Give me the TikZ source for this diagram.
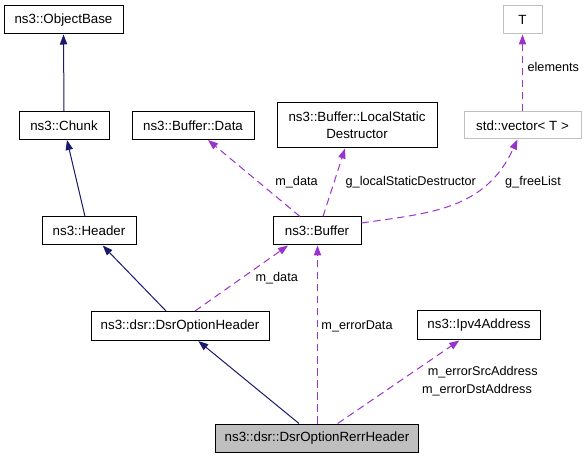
\documentclass[tikz,border=0pt]{standalone}
\usepackage{fontspec}
\setmainfont{Liberation Sans}
\usetikzlibrary{arrows.meta,calc}
\definecolor{navyline}{HTML}{191970}
\definecolor{purp}{HTML}{9A32CD}
\definecolor{grayb}{HTML}{BFBFBF}
\begin{document}
\begin{tikzpicture}[x=0.75pt,y=-0.75pt,
  box/.style 2 args={minimum width=#1*0.75pt, minimum height=#2*0.75pt},
  cls/.style={draw=black, line width=0.75pt, inner sep=0pt, align=center, font=\fontsize{10}{12.5}\selectfont},
  gcls/.style={cls, draw=grayb},
  lbl/.style={inner sep=0pt, font=\fontsize{9.5}{12}\selectfont},
  inh/.style={draw=navyline, line width=0.75pt, -{Triangle[length=7.5pt,width=5.5pt]}},
  use/.style={draw=purp, line width=0.75pt, dash pattern=on 5.5pt off 3.5pt, -{Triangle[length=7.5pt,width=5.5pt]}}]
\useasboundingbox (0,0) rectangle (585,459);
\node[cls,box={119}{28}] (objbase) at (63.5,20) {ns3::ObjectBase};
\node[cls,box={90}{28}] (chunk) at (64,125.5) {ns3::Chunk};
\node[cls,box={94}{28}] (header) at (89,231) {ns3::Header};
\node[cls,box={122}{28}] (data) at (193,125.5) {ns3::Buffer::Data};
\node[cls,box={160}{45}] (lsd) at (357,125.5) {ns3::Buffer::LocalStatic\\Destructor};
\node[gcls,box={117}{27}] (vec) at (522.5,125.5) {std::vector< T >};
\node[gcls,box={39}{28}] (T) at (522.5,20) {T};
\node[cls,box={88}{28}] (buf) at (317,231) {ns3::Buffer};
\node[cls,box={178}{29}] (dsroh) at (180,326) {ns3::dsr::DsrOptionHeader};
\node[cls,box={123}{29}] (ipv4) at (479,325.5) {ns3::Ipv4Address};
\node[cls,box={203}{28},fill=grayb] (rerr) at (317,438) {ns3::dsr::DsrOptionRerrHeader};

\draw[inh] (chunk.north) -- (objbase.south);
\draw[inh] ($(header.north)+(-4,0)$) -- ($(chunk.south)+(3,0)$);
\draw[inh] ($(dsroh.north)+(-14,0)$) -- ($(header.south)+(13.7,0)$);
\draw[inh] ($(rerr.north)+(-18,0)$) -- ($(dsroh.south)+(18.3,0)$);

\draw[use] ($(buf.north)+(-17,0)$) -- ($(data.south)+(15,0)$);
\draw[use] ($(buf.north)+(6,0)$) -- ($(lsd.south)+(-12,0)$);
\draw[use] ($(buf.east)+(0,-8)$) .. controls (430,213) and (485,210) .. ($(vec.south)+(-5,0)$);
\draw[use] (vec.north) -- (T.south);
\draw[use] ($(dsroh.north)+(15,0)$) -- ($(buf.south)+(-29,0)$);
\draw[use] ($(rerr.north)+(0.5,0)$) -- ($(buf.south)+(0.5,0)$);
\draw[use] ($(rerr.north)+(20.7,0)$) -- ($(ipv4.south)+(-19.7,0)$);

\node[lbl] (l1) at (296.5,182) {m\_data};
\node[lbl] (l2) at (410.8,182) {g\_localStaticDestructor};
\node[lbl] (l3) at (533,182) {g\_freeList};
\node[lbl] (l4) at (553.3,67) {elements};
\node[lbl] (l5) at (276.7,277.7) {m\_data};
\node[lbl] (l6) at (357,326) {m\_errorData};
\node[lbl] (l7) at (482.7,372) {m\_errorSrcAddress};
\node[lbl] (l8) at (477,390) {m\_errorDstAddress};
\end{tikzpicture}
\end{document}
